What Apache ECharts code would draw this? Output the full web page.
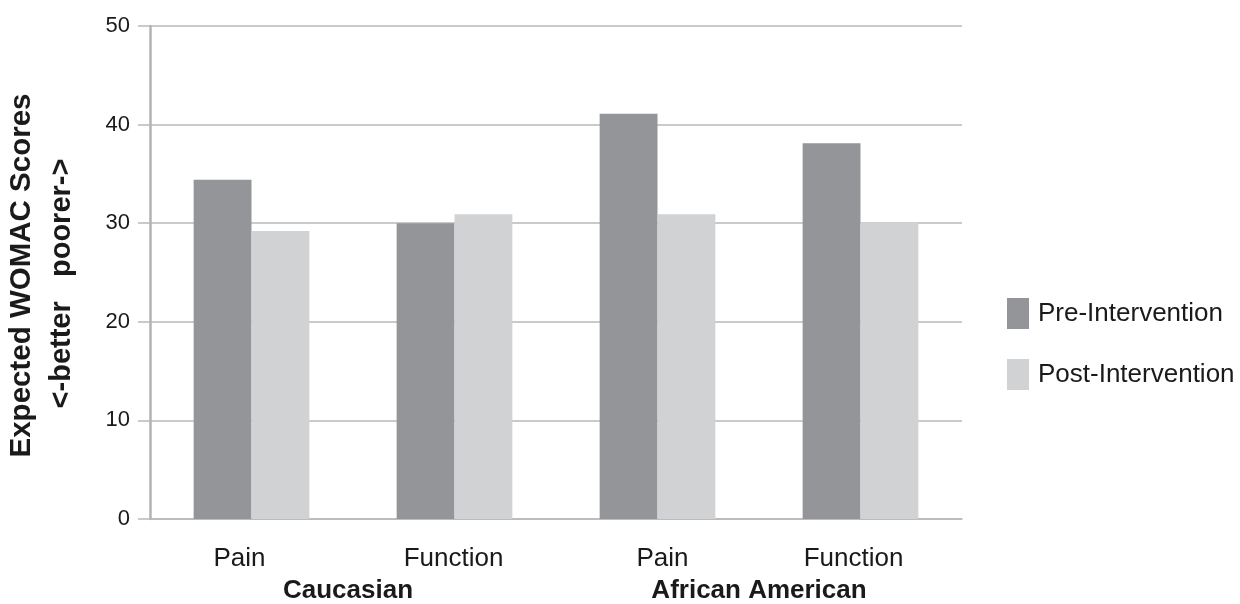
<!DOCTYPE html>
<html>
<head>
<meta charset="utf-8">
<script src="https://cdn.jsdelivr.net/npm/echarts@6/dist/echarts.min.js"></script>
<style>
html,body{margin:0;padding:0;background:#fff;}
#chart{width:1240px;height:604px;}
</style>
</head>
<body>
<div id="chart"></div>
<script>
var categories = ['Pain', 'Function', 'Pain', 'Function'];
var groups = ['Caucasian', 'African American'];
var preIntervention = [34.4, 30.0, 41.1, 38.1];
var postIntervention = [29.2, 30.9, 30.9, 30.1];
var yTicks = [0, 10, 20, 30, 40, 50];

var FONT = '"Liberation Sans", Arial, Helvetica, sans-serif';
var chart = echarts.init(document.getElementById('chart'), null, {renderer: 'canvas'});
chart.setOption({
  animation: false,
  backgroundColor: '#ffffff',
  textStyle: {fontFamily: FONT},
  grid: {left: 150, right: 278, top: 26, bottom: 85, containLabel: false, outerBoundsMode: 'none'},
  legend: {
    orient: 'vertical',
    left: 1002,
    top: 293,
    itemWidth: 22,
    itemHeight: 31,
    itemGap: 30,
    icon: 'rect',
    textStyle: {fontSize: 26, color: '#1a1a1a', fontFamily: FONT, padding: [0, 0, 0, 4]},
    data: ['Pre-Intervention', 'Post-Intervention']
  },
  xAxis: [
    {
      type: 'category',
      data: categories,
      position: 'bottom',
      axisLine: {show: true, lineStyle: {color: '#b8b8b8', width: 1.5}},
      axisTick: {show: false},
      axisLabel: {
        fontSize: 26, color: '#1a1a1a', margin: 27, fontFamily: FONT,
        formatter: function (v, i) { return '{c' + i + '|' + v + '}'; },
        rich: {
          c0: {fontSize: 26, color: '#1a1a1a', fontFamily: FONT, padding: [0, 24, 0, 0]},
          c1: {fontSize: 26, color: '#1a1a1a', fontFamily: FONT, padding: [0, 2, 0, 0]},
          c2: {fontSize: 26, color: '#1a1a1a', fontFamily: FONT, padding: [0, 0, 0, 10]},
          c3: {fontSize: 26, color: '#1a1a1a', fontFamily: FONT, padding: [0, 14, 0, 0]}
        }
      }
    },
    {
      type: 'category',
      data: groups,
      position: 'bottom',
      axisLine: {show: false},
      axisTick: {show: false},
      splitLine: {show: false},
      axisLabel: {
        fontSize: 26, fontWeight: 'bold', color: '#1a1a1a', margin: 59, fontFamily: FONT,
        formatter: function (v, i) { return '{g' + i + '|' + v + '}'; },
        rich: {
          g0: {fontSize: 26, fontWeight: 'bold', color: '#1a1a1a', fontFamily: FONT, padding: [0, 10, 0, 0]},
          g1: {fontSize: 26, fontWeight: 'bold', color: '#1a1a1a', fontFamily: FONT}
        }
      }
    }
  ],
  yAxis: {
    type: 'value',
    min: 0,
    max: 50,
    interval: 10,
    axisLine: {show: true, lineStyle: {color: '#b3b3b6', width: 2.5}},
    axisTick: {show: true, length: 12, lineStyle: {color: '#b8b8b8', width: 1.5}},
    splitLine: {show: true, lineStyle: {color: '#b8b8b8', width: 1.5}},
    axisLabel: {
      fontSize: 22, color: '#1a1a1a', margin: 20, fontFamily: FONT,
      formatter: function (v) { return yTicks.indexOf(v) >= 0 ? String(v) : ''; }
    },
    name: '{a|Expected WOMAC Scores}\n{b|<-better   poorer->}',
    nameLocation: 'middle',
    nameRotate: 90,
    nameGap: 68,
    nameTextStyle: {
      fontFamily: FONT,
      color: '#1a1a1a',
      rich: {
        a: {fontSize: 29.5, fontWeight: 'bold', color: '#1a1a1a', fontFamily: FONT, lineHeight: 40, padding: [0, 6, 0, 0]},
        b: {fontSize: 29, fontWeight: 'bold', color: '#1a1a1a', fontFamily: FONT, lineHeight: 40, padding: [0, 22, 0, 0]}
      }
    }
  },
  series: [
    {
      name: 'Pre-Intervention',
      type: 'bar',
      xAxisIndex: 0,
      data: preIntervention,
      itemStyle: {color: '#949599'},
      barGap: '0%',
      barCategoryGap: '43%'
    },
    {
      name: 'Post-Intervention',
      type: 'bar',
      xAxisIndex: 0,
      data: postIntervention,
      itemStyle: {color: '#d1d2d4'},
      barGap: '0%',
      barCategoryGap: '43%'
    }
  ]
});
</script>
</body>
</html>
